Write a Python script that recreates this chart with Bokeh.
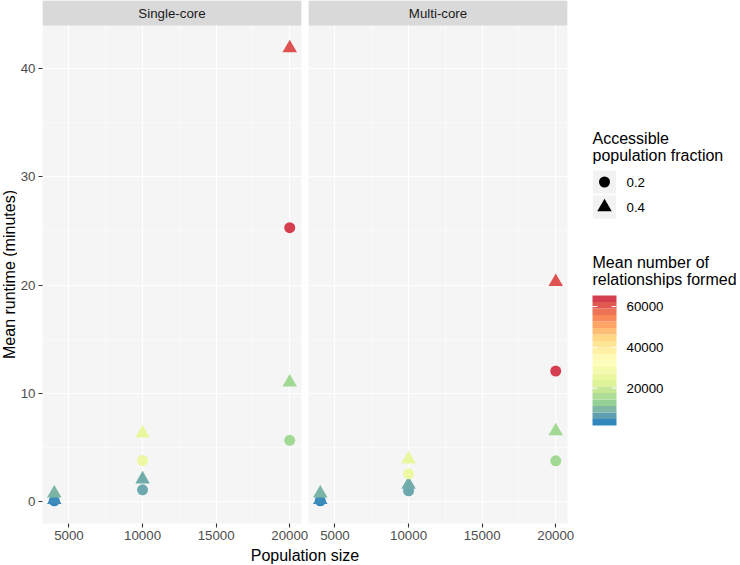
import math
from bokeh.plotting import figure
from bokeh.models import ColumnDataSource, Range1d, FixedTicker, Grid, BoxAnnotation
from bokeh.layouts import row, column
from bokeh.core.properties import value
from bokeh.embed import file_html
from bokeh.resources import INLINE

# ---------------- data ----------------
panels = ["Single-core", "Multi-core"]
pop_size = [4000, 4000, 4000, 10000, 10000, 10000, 10000, 20000, 20000, 20000, 20000]
fraction = ["0.2", "0.4", "0.4", "0.2", "0.4", "0.2", "0.4", "0.2", "0.4", "0.2", "0.4"]
relationships = [1700, 2200, 8100, 6300, 6800, 26000, 24000, 13500, 13200, 65400, 63000]
runtime_single = [0.05, 0.15, 0.75, 1.07, 2.05, 3.78, 6.3, 5.65, 11.0, 25.3, 41.9]
runtime_multi = [0.05, 0.15, 0.75, 0.98, 1.56, 2.55, 3.9, 3.75, 6.5, 12.05, 20.3]
x_ticks = [5000, 10000, 15000, 20000]
x_minor = [7500, 12500, 17500]
y_ticks = [0, 10, 20, 30, 40]
y_minor = [5, 15, 25, 35]
fraction_levels = ["0.2", "0.4"]
colorbar_ticks = [20000, 40000, 60000]

FONT = "Liberation Sans"
SMALL = "13.3px"
BIG = "16px"
spectral = ["#3288BD", "#99D594", "#E6F598", "#FFFFBF", "#FEE08B", "#FC8D59", "#D53E4F"]


# ---------------- colour ramp (CIELAB interpolation, like scales::gradient_n_pal) ----------------
def _hex2rgb(h):
    h = h.lstrip("#")
    return [int(h[i:i + 2], 16) / 255 for i in (0, 2, 4)]


def _lin(c):
    return c / 12.92 if c <= 0.04045 else ((c + 0.055) / 1.055) ** 2.4


def _unlin(c):
    v = 12.92 * c if c <= 0.0031308 else 1.055 * c ** (1 / 2.4) - 0.055
    return min(1.0, max(0.0, v))


def _f(t):
    d = 6 / 29
    return t ** (1 / 3) if t > d ** 3 else t / (3 * d * d) + 4 / 29


def _finv(t):
    d = 6 / 29
    return t ** 3 if t > d else 3 * d * d * (t - 4 / 29)


def to_lab(h):
    r, g, b = [_lin(c) for c in _hex2rgb(h)]
    X = (0.4124564 * r + 0.3575761 * g + 0.1804375 * b) / 0.95047
    Y = 0.2126729 * r + 0.7151522 * g + 0.0721750 * b
    Z = (0.0193339 * r + 0.1191920 * g + 0.9503041 * b) / 1.08883
    return (116 * _f(Y) - 16, 500 * (_f(X) - _f(Y)), 200 * (_f(Y) - _f(Z)))


def from_lab(L, a, b):
    fy = (L + 16) / 116
    X = _finv(fy + a / 500) * 0.95047
    Y = _finv(fy)
    Z = _finv(fy - b / 200) * 1.08883
    r = 3.2404542 * X - 1.5371385 * Y - 0.4985314 * Z
    g = -0.9692660 * X + 1.8760108 * Y + 0.0415560 * Z
    bb = 0.0556434 * X - 0.2040259 * Y + 1.0572252 * Z
    return "#%02X%02X%02X" % tuple(int(round(_unlin(c) * 255)) for c in (r, g, bb))


LABS = [to_lab(c) for c in spectral]
rel_min, rel_max = min(relationships), max(relationships)


def ramp(v):
    t = (v - rel_min) / (rel_max - rel_min)
    t = min(1.0, max(0.0, t))
    pos = t * (len(LABS) - 1)
    i = min(int(pos), len(LABS) - 2)
    u = pos - i
    a, b = LABS[i], LABS[i + 1]
    return from_lab(*[a[k] + (b[k] - a[k]) * u for k in range(3)])


# ---------------- geometry (page origin is 0,0) ----------------
FRAME_W, FRAME_H, STRIP_PX = 259, 523, 25
YLAB_W, P1_LEFT, GAP = 17, 25, 7
BOTTOM = 23
ROW_H = FRAME_H + BOTTOM
XLAB_H = 18
LEG_X0 = YLAB_W + P1_LEFT + FRAME_W + GAP + FRAME_W + GAP
LEG_W = 736 - LEG_X0

x_span = max(pop_size) - min(pop_size)
x_lo, x_hi = min(pop_size) - 0.05 * x_span, max(pop_size) + 0.05 * x_span
all_rt = runtime_single + runtime_multi
y_span = max(all_rt) - min(all_rt)
y_lo, y_hi = min(all_rt) - 0.05 * y_span, max(all_rt) + 0.05 * y_span
px_per_unit = (FRAME_H - STRIP_PX) / (y_hi - y_lo)
y_top = y_hi + STRIP_PX / px_per_unit

marker = ["circle" if f == "0.2" else "triangle" for f in fraction]
msize = [11 if f == "0.2" else 14.5 for f in fraction]
colors = [ramp(v) for v in relationships]


def make_panel(title, runtime, left_border, with_yaxis):
    p = figure(frame_width=FRAME_W, frame_height=FRAME_H,
               x_range=Range1d(x_lo, x_hi), y_range=Range1d(y_lo, y_top),
               toolbar_location=None, output_backend="svg",
               min_border_left=left_border, min_border_right=GAP,
               min_border_top=0, min_border_bottom=BOTTOM,
               y_axis_location="left" if with_yaxis else None,
               background_fill_color="#F5F5F5", border_fill_color="white",
               outline_line_color=None)
    xt = FixedTicker(ticks=x_ticks, minor_ticks=x_minor)
    yt = FixedTicker(ticks=y_ticks, minor_ticks=y_minor)
    p.xaxis.ticker = xt
    axes = list(p.xaxis)
    if with_yaxis:
        p.yaxis.ticker = yt
        axes += list(p.yaxis)
    else:
        p.center = [r for r in p.center if not (isinstance(r, Grid) and r.dimension == 1)]
        p.add_layout(Grid(dimension=1, ticker=yt), "center")
    for ax in axes:
        ax.axis_line_color = None
        ax.major_tick_line_color = "#333333"
        ax.major_tick_line_width = 1.1
        ax.major_tick_out = 4
        ax.major_tick_in = 0
        ax.minor_tick_line_color = None
        ax.major_label_standoff = 3
        ax.major_label_text_font = FONT
        ax.major_label_text_font_size = SMALL
        ax.major_label_text_color = "#4D4D4D"
    for g in p.grid:
        g.grid_line_color = "white"
        g.grid_line_width = 1.1
        g.minor_grid_line_color = "white"
        g.minor_grid_line_width = 0.55

    src = ColumnDataSource(dict(x=pop_size, y=runtime, m=marker, s=msize, c=colors))
    p.scatter(x="x", y="y", marker="m", size="s", fill_color="c", line_color=None, source=src)

    # facet strip
    p.add_layout(BoxAnnotation(bottom=y_hi, fill_color="#D9D9D9", fill_alpha=1.0,
                               line_color=None, level="annotation"))
    p.text(x=[(x_lo + x_hi) / 2], y=[y_hi + STRIP_PX / px_per_unit / 2], text=[title],
           text_align="center", text_baseline="middle", text_font=value(FONT),
           text_font_size=value(SMALL), text_color="#1A1A1A", level="overlay")
    return p


p1 = make_panel(panels[0], runtime_single, P1_LEFT, True)
p2 = make_panel(panels[1], runtime_multi, 0, False)


def blank(w, h, xr, yr):
    f = figure(frame_width=w, frame_height=h, x_range=xr, y_range=yr, toolbar_location=None,
               output_backend="svg", min_border=0, min_border_left=0, min_border_right=0,
               min_border_top=0, min_border_bottom=0, x_axis_location=None, y_axis_location=None,
               outline_line_color=None, background_fill_color="white", border_fill_color="white")
    f.grid.visible = False
    return f


# y-axis title
ylab = blank(YLAB_W, ROW_H, Range1d(0, YLAB_W), Range1d(ROW_H, 0))
ylab.text(x=[YLAB_W / 2 + 0.5], y=[STRIP_PX + (FRAME_H - STRIP_PX) / 2], text=["Mean runtime (minutes)"],
          angle=math.pi / 2, text_align="center", text_baseline="middle",
          text_font=value(FONT), text_font_size=value(BIG), text_color="black")

# legend panel (coordinates = page pixels)
leg = blank(LEG_W, ROW_H, Range1d(LEG_X0, LEG_X0 + LEG_W), Range1d(ROW_H, 0))
lx = 592
title_kw = dict(text_align="left", text_baseline="middle", text_font=value(FONT),
                text_font_size=value(BIG), text_color="black")
lab_kw = dict(text_align="left", text_baseline="middle", text_font=value(FONT),
              text_font_size=value(SMALL), text_color="black")
leg.text(x=[lx, lx], y=[137.5, 155], text=["Accessible", "population fraction"], **title_kw)
key_y = [181.5, 206.5]
leg.rect(x=[lx + 12] * 2, y=key_y, width=23, height=23, fill_color="#F2F2F2", line_color=None)
leg.scatter(x=[lx + 12] * 2, y=key_y, marker=["circle", "triangle"], size=[11, 14.5],
            fill_color="black", line_color=None)
leg.text(x=[lx + 34] * 2, y=key_y, text=fraction_levels, **lab_kw)

leg.text(x=[lx, lx], y=[261.7, 279], text=["Mean number of", "relationships formed"], **title_kw)
bar_top, bar_bot, bar_w, nbin = 295, 425, 24, 20


def bar_y(v):
    return bar_bot - (v - rel_min) / (rel_max - rel_min) * (bar_bot - bar_top)


step = (bar_bot - bar_top) / nbin
bins_bottom = [bar_bot - i * step for i in range(nbin)]
bin_vals = [rel_min + (rel_max - rel_min) * i / (nbin - 1) for i in range(nbin)]
leg.quad(left=lx, right=lx + bar_w, bottom=bins_bottom, top=[b - step for b in bins_bottom],
         fill_color=[ramp(v) for v in bin_vals], line_color=None)
ty = [bar_y(v) for v in colorbar_ticks]
leg.segment(x0=[lx] * 3, x1=[lx + bar_w / 5] * 3, y0=ty, y1=ty, line_color="white", line_width=1)
leg.segment(x0=[lx + bar_w * 4 / 5] * 3, x1=[lx + bar_w] * 3, y0=ty, y1=ty, line_color="white", line_width=1)
leg.text(x=[lx + 34] * 3, y=ty, text=[str(v) for v in colorbar_ticks], **lab_kw)

# x-axis title spanning both panels
TOTAL_W = LEG_X0 + LEG_W
xlab = blank(TOTAL_W, XLAB_H, Range1d(0, TOTAL_W), Range1d(0, 1))
p1_frame_left = YLAB_W + P1_LEFT
p2_frame_right = p1_frame_left + FRAME_W + GAP + FRAME_W
xlab.text(x=[(p1_frame_left + p2_frame_right) / 2], y=[0.5], text=["Population size"],
          text_align="center", text_baseline="middle", text_font=value(FONT),
          text_font_size=value(BIG), text_color="black")

layout = column(row(ylab, p1, p2, leg), xlab)
open("out.html", "w").write(file_html(layout, INLINE))
